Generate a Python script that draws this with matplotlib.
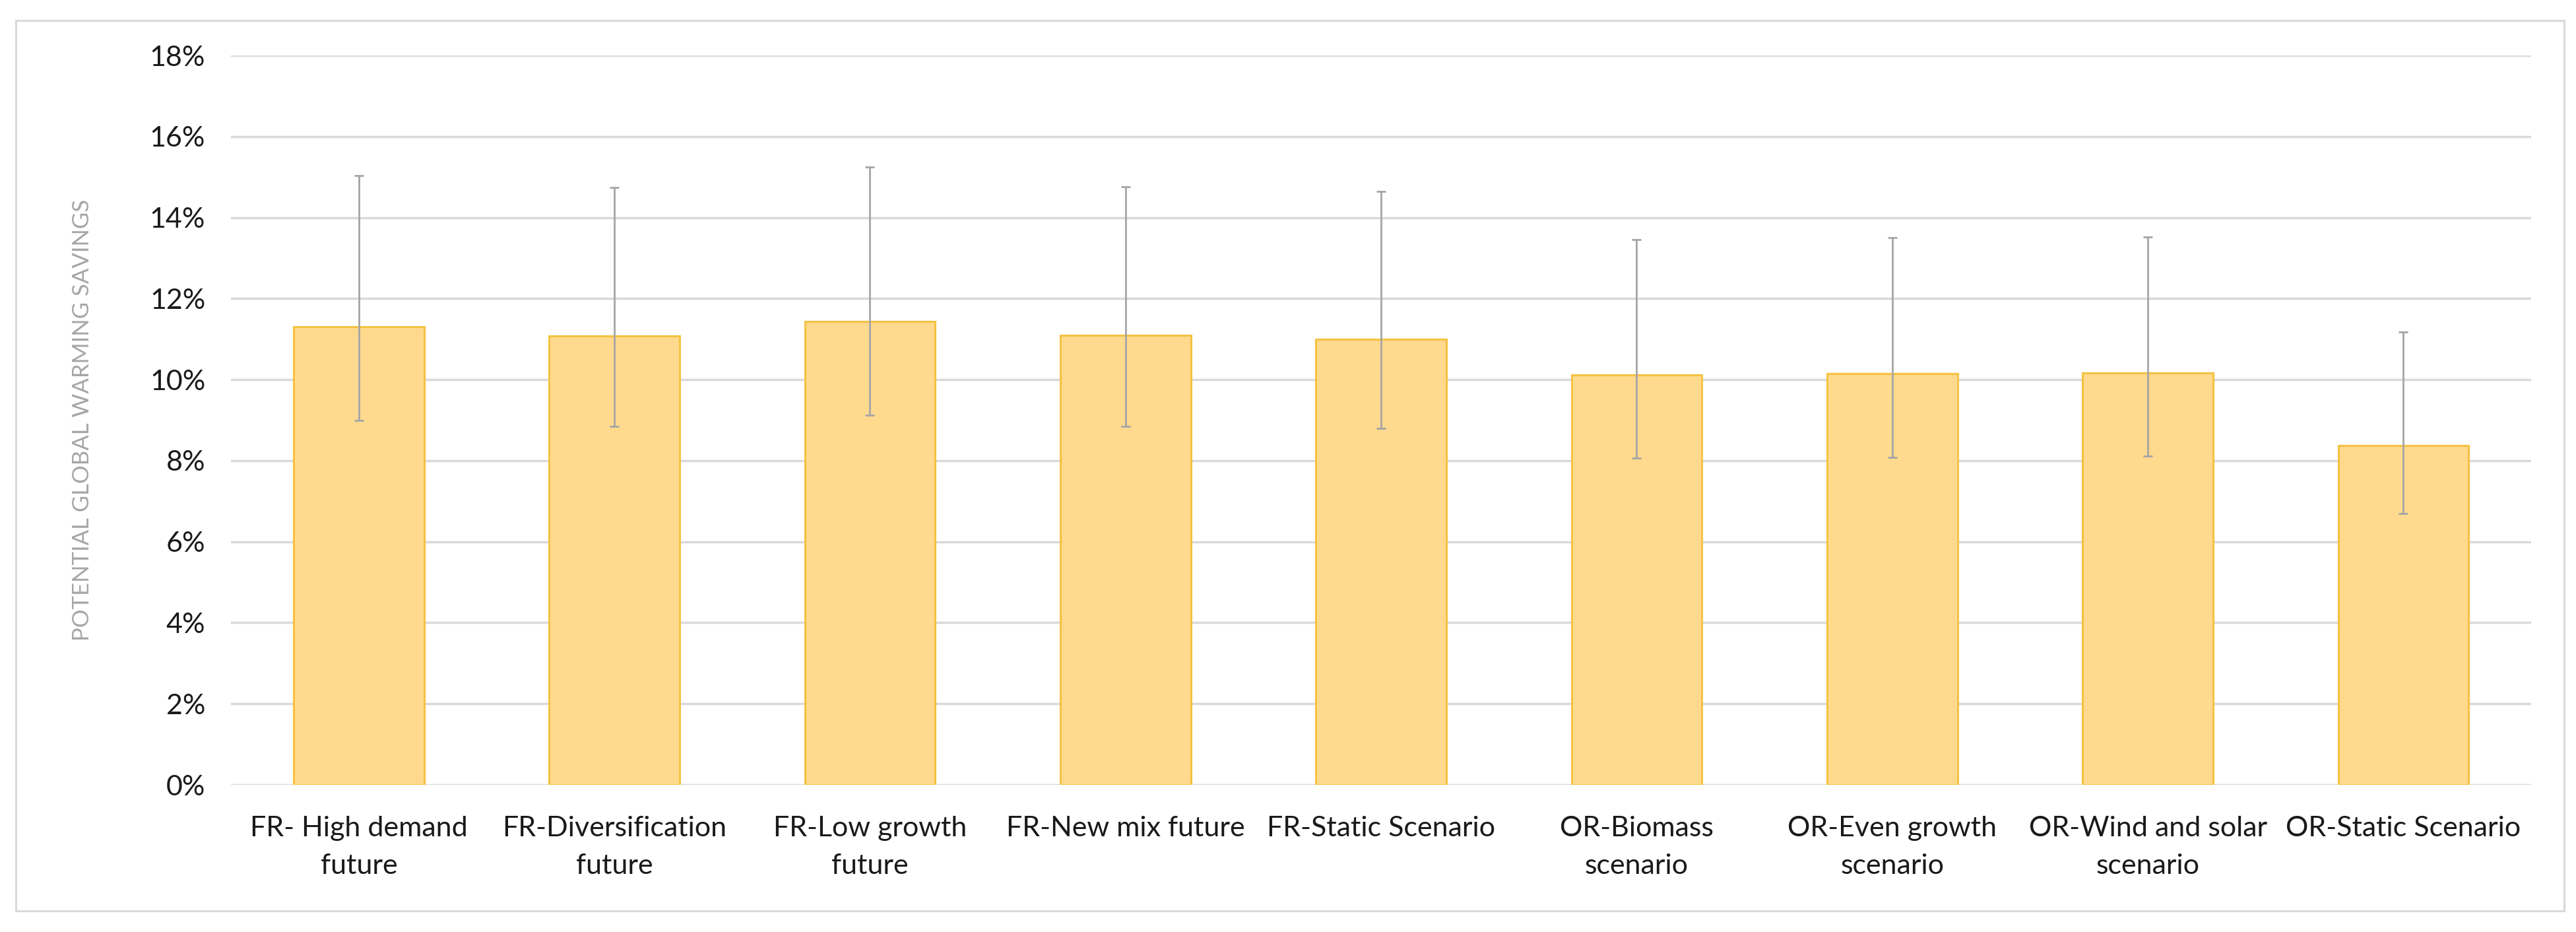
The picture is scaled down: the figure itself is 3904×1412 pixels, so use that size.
import matplotlib.pyplot as plt
from matplotlib.patches import Rectangle
from matplotlib.ticker import FuncFormatter

scenarios = ['FR- High demand\nfuture', 'FR-Diversification\nfuture', 'FR-Low growth\nfuture',
             'FR-New mix future', 'FR-Static Scenario', 'OR-Biomass\nscenario',
             'OR-Even growth\nscenario', 'OR-Wind and solar\nscenario', 'OR-Static Scenario']
savings = [11.30, 11.07, 11.44, 11.09, 11.00, 10.11, 10.15, 10.17, 8.38]
err_high = [15.03, 14.75, 15.24, 14.76, 14.65, 13.45, 13.50, 13.52, 11.18]
err_low = [8.99, 8.84, 9.13, 8.85, 8.79, 8.07, 8.08, 8.11, 6.70]

plt.rcParams['font.family'] = ['Lato', 'DejaVu Sans']

fig = plt.figure(figsize=(39.04, 14.12), dpi=100)
ax = fig.add_axes([0.0897, 0.1579, 0.8929, 0.7826])

x = list(range(len(scenarios)))
lower = [s - lo for s, lo in zip(savings, err_low)]
upper = [hi - s for s, hi in zip(savings, err_high)]

ax.bar(x, savings, width=0.51, color='#FFD98E', edgecolor='#F5C242', linewidth=2.2, zorder=2)
ax.errorbar(x, savings, yerr=[lower, upper], fmt='none', ecolor='#A5A5A5',
            elinewidth=2.0, capsize=5, capthick=2.0, zorder=3)

ax.set_xlim(-0.5, len(scenarios) - 0.5)
ax.set_ylim(0, 18)
ax.set_yticks(range(0, 19, 2))
ax.yaxis.set_major_formatter(FuncFormatter(lambda v, p: f'{int(v)}%'))
ax.set_xticks(x)
ax.set_xticklabels(scenarios, fontsize=31, color='#1a1a1a', linespacing=1.6)
ax.tick_params(axis='y', labelsize=31, labelcolor='#1a1a1a', length=0, pad=28)
ax.tick_params(axis='x', length=0, pad=34)

ax.grid(axis='y', color='#D9D9D9', linewidth=2.5, zorder=0)
for side in ['top', 'right', 'left', 'bottom']:
    ax.spines[side].set_visible(False)

ax.set_ylabel('POTENTIAL GLOBAL WARMING SAVINGS', fontsize=25, color='#A6A6A6')
ax.yaxis.set_label_coords(-0.060, 0.5)

# light frame around the whole chart
fig.patches.append(Rectangle((24 / 3904, 1 - 1380 / 1412), (3886 - 24) / 3904, (1380 - 31) / 1412,
                             transform=fig.transFigure, fill=False, edgecolor='#D9D9D9', linewidth=2.2))

plt.savefig('out.png', dpi=100)
